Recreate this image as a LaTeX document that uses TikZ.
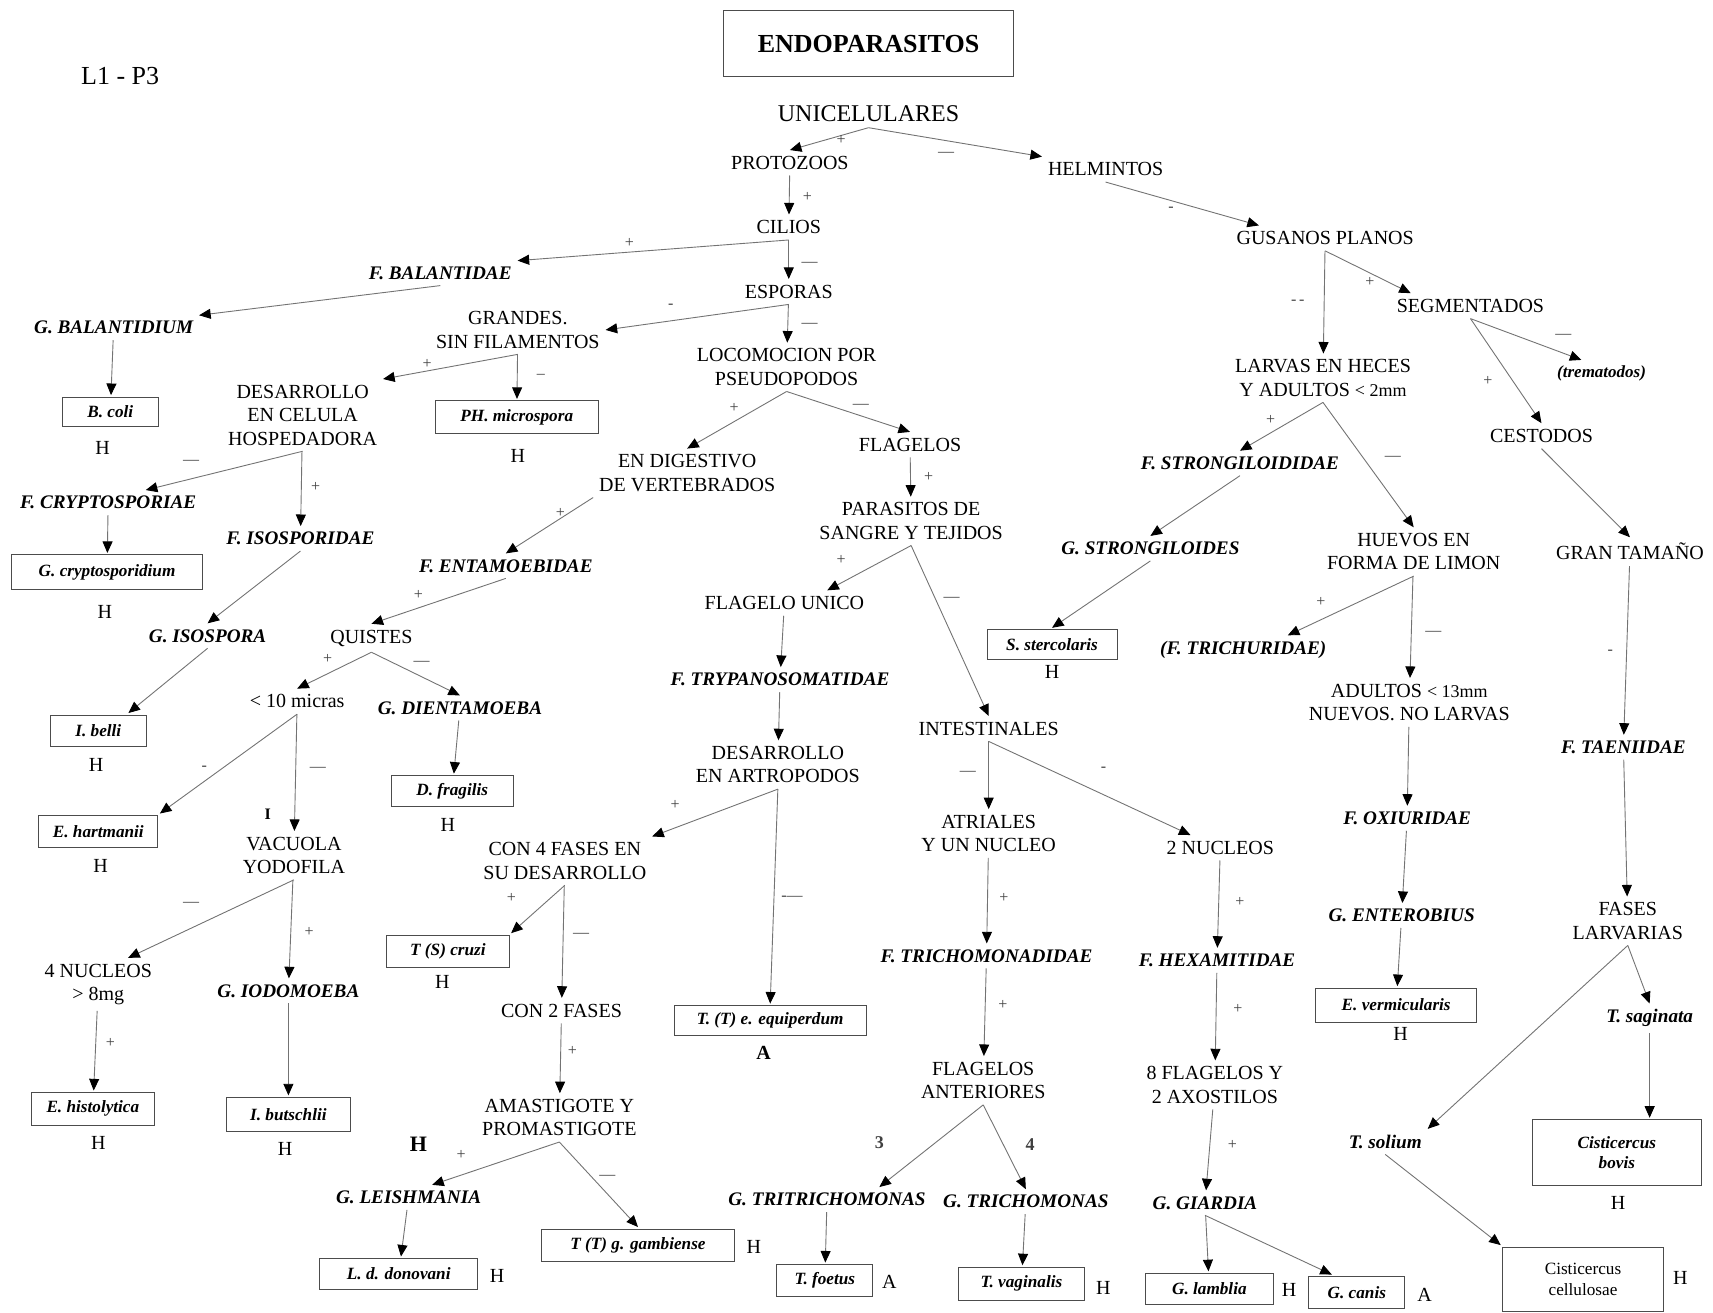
\documentclass[tikz,border=0pt]{standalone}
\usepackage{fontspec}
\setmainfont{Liberation Serif}
\usetikzlibrary{arrows.meta,calc}
\newlength\px
\setlength\px{0.5463pt}

\begin{document}
\begin{tikzpicture}[x=\px,y=-\px]
            \tikzstyle{cat}=[font=\fontsize{10}{11.7}\selectfont,align=center,inner sep=1pt,outer sep=2pt]
            \tikzstyle{taxon}=[font=\fontsize{9.6}{11}\selectfont\bfseries\itshape,inner sep=1pt,outer sep=2pt]
            \tikzstyle{species}=[draw=black!70,line width=0.5pt,align=center,inner sep=1pt,outer sep=1pt,
                                 font=\fontsize{8.6}{10}\selectfont\bfseries\itshape]
            \tikzstyle{host}=[font=\fontsize{10}{12}\selectfont,inner sep=0pt]
            \tikzstyle{sign}=[font=\fontsize{8}{9}\selectfont,text=black!75,inner sep=0pt]
            \tikzstyle{arr}=[-{Triangle[length=5.8pt,width=5pt,color=black]},black!55,line width=0.45pt]
            \useasboundingbox (0,0) rectangle (1568,1201);

            % heading
            \node[font=\fontsize{13}{15}\selectfont] (sheet) at (110,70) {L1 - P3};
            \node[draw=black!70,line width=0.5pt,minimum width=266\px,minimum height=60\px,
                  font=\fontsize{13}{15}\selectfont\bfseries] (title) at (795,40) {ENDOPARASITOS};
            \node[cat,font=\fontsize{12}{14}\selectfont] (unicel) at (795,104) {UNICELULARES};
            \node[cat] (protozoos) at (723,149) {PROTOZOOS};
            \node[cat] (helmintos) at (1012,155) {HELMINTOS};

            % protozoos
            \node[cat] (cilios) at (722,208) {CILIOS};
            \node[taxon] (balantidae) at (403,250) {F. BALANTIDAE};
            \node[cat] (esporas) at (722,267) {ESPORAS};
            \node[taxon] (gbalant) at (104,300) {G. BALANTIDIUM};
            \node[species,minimum width=88\px,minimum height=27\px] (bcoli) at (101,377) {B. coli};
            \node[cat] (grandes) at (474,302) {GRANDES.\\SIN FILAMENTOS};
            \node[cat] (locom) at (720,336) {LOCOMOCION POR\\PSEUDOPODOS};
            \node[cat] (desarr) at (277,380) {DESARROLLO\\EN CELULA\\HOSPEDADORA};
            \node[species,minimum width=149\px,minimum height=30\px] (phmicro) at (473,382) {PH. microspora};
            \node[cat] (endig) at (629,433) {EN DIGESTIVO\\DE VERTEBRADOS};
            \node[cat] (flagelos) at (833,407) {FLAGELOS};
            \node[taxon] (cryptosp) at (99,460) {F. CRYPTOSPORIAE};
            \node[taxon] (isospor) at (275,493) {F. ISOSPORIDAE};
            \node[species,minimum width=175\px,minimum height=32\px] (gcrypto) at (98,524) {G. cryptosporidium};
            \node[taxon] (entamoeb) at (463,518) {F. ENTAMOEBIDAE};
            \node[cat] (parasang) at (834,477) {PARASITOS DE\\SANGRE Y TEJIDOS};
            \node[cat] (flagunico) at (718,552) {FLAGELO UNICO};
            \node[taxon] (gisospora) at (190,582) {G. ISOSPORA};
            \node[cat] (quistes) at (340,584) {QUISTES};
            \node[taxon] (trypano) at (714,622) {F. TRYPANOSOMATIDAE};
            \node[species,minimum width=88\px,minimum height=29\px] (ibelli) at (90,669) {I. belli};
            \node[cat] (micras) at (272,642) {< 10 micras};
            \node[taxon] (gdientam) at (421,648) {G. DIENTAMOEBA};
            \node[cat] (intest) at (905,667) {INTESTINALES};
            \node[cat] (desartr) at (712,700) {DESARROLLO\\EN ARTROPODOS};
            \node[species,minimum width=112\px,minimum height=28\px] (dfragilis) at (414,724) {D. fragilis};
            \node[species,minimum width=109\px,minimum height=29\px] (ehartman) at (90,761) {E. hartmanii};
            \node[cat] (vacuola) at (269,783) {VACUOLA\\YODOFILA};
            \node[cat] (con4) at (517,788) {CON 4 FASES EN\\SU DESARROLLO};
            \node[cat] (atriales) at (905,763) {ATRIALES\\Y UN NUCLEO};
            \node[cat] (nucleos2) at (1117,776) {2 NUCLEOS};
            \node[species,minimum width=112\px,minimum height=30\px] (tscruzi) at (410,871) {T (S) cruzi};
            \node[cat] (con2) at (514,925) {CON 2 FASES};
            \node[cat] (nucleos4) at (90,901) {4 NUCLEOS\\> 8mg};
            \node[taxon] (giodom) at (264,907) {G. IODOMOEBA};
            \node[species,minimum width=176\px,minimum height=27\px] (ttequi) at (705,934) {T. (T) e. equiperdum};
            \node[taxon] (trichomonad) at (903,875) {F. TRICHOMONADIDAE};
            \node[taxon] (hexamit) at (1114,879) {F. HEXAMITIDAE};
            \node[species,minimum width=112\px,minimum height=30\px] (ehisto) at (85,1015) {E. histolytica};
            \node[species,minimum width=113\px,minimum height=31\px] (ibutsch) at (264,1020) {I. butschlii};
            \node[cat] (amasti) at (512,1023) {AMASTIGOTE Y\\PROMASTIGOTE};
            \node[cat] (flagant) at (900,989) {FLAGELOS\\ANTERIORES};
            \node[cat] (flag8) at (1112,993) {8 FLAGELOS Y\\2 AXOSTILOS};
            \node[taxon] (gleish) at (374,1096) {G. LEISHMANIA};
            \node[species,minimum width=145\px,minimum height=28\px] (ldonov) at (365,1166) {L. d. donovani};
            \node[species,minimum width=177\px,minimum height=30\px] (ttgamb) at (584,1140) {T (T) g. gambiense};
            \node[taxon] (gtritri) at (757,1098) {G. TRITRICHOMONAS};
            \node[taxon] (gtricho) at (939,1100) {G. TRICHOMONAS};
            \node[taxon] (ggiardia) at (1103,1101) {G. GIARDIA};
            \node[species,minimum width=88\px,minimum height=29\px] (tfoetus) at (755,1172) {T. foetus};
            \node[species,minimum width=116\px,minimum height=30\px] (tvagin) at (935,1175) {T. vaginalis};
            \node[species,minimum width=117\px,minimum height=29\px] (glamblia) at (1107,1180) {G. lamblia};
            \node[species,minimum width=88\px,minimum height=29\px] (gcanis) at (1242,1183) {G. canis};

            % helmintos
            \node[cat] (gusanos) at (1213,218) {GUSANOS PLANOS};
            \node[cat] (segment) at (1346,280) {SEGMENTADOS};
            \node[taxon,font=\fontsize{8.5}{10}\selectfont\bfseries\itshape] (tremat) at (1466,342) {(trematodos)};
            \node[cat] (larvas) at (1211,346) {LARVAS EN HECES\\Y ADULTOS {\fontsize{9}{10}\selectfont< 2mm}};
            \node[cat] (cestodos) at (1411,399) {CESTODOS};
            \node[taxon] (fstrong) at (1135,424) {F. STRONGILOIDIDAE};
            \node[taxon] (gstrong) at (1053,502) {G. STRONGILOIDES};
            \node[cat] (huevos) at (1294,505) {HUEVOS EN\\FORMA DE LIMON};
            \node[cat] (grantam) at (1492,505) {GRAN TAMAÑO};
            \node[species,minimum width=119\px,minimum height=27\px] (sstercol) at (963,590) {S. stercolaris};
            \node[taxon] (ftrichu) at (1138,595) {(F. TRICHURIDAE)};
            \node[cat] (adultos) at (1290,643) {ADULTOS {\fontsize{9}{10}\selectfont< 13mm}\\NUEVOS. NO LARVAS};
            \node[taxon] (ftaen) at (1486,684) {F. TAENIIDAE};
            \node[taxon] (foxiur) at (1288,749) {F. OXIURIDAE};
            \node[taxon] (genterob) at (1283,838) {G. ENTEROBIUS};
            \node[cat] (fases) at (1490,843) {FASES\\LARVARIAS};
            \node[species,minimum width=147\px,minimum height=31\px] (evermic) at (1278,920) {E. vermicularis};
            \node[taxon] (tsagin) at (1510,932) {T. saginata};
            \node[taxon] (tsolium) at (1268,1045) {T. solium};
            \node[species,minimum width=155\px,minimum height=60\px] (cbovis) at (1480,1055) {Cisticercus\\bovis};
            \node[species,minimum width=147\px,minimum height=59\px,font=\fontsize{8.6}{10.5}\selectfont] (ccellul) at (1449,1171) {Cisticercus\\cellulosae};

            % hosts
            \node[host] (h1) at (94,410) {H};
            \node[host] (h2) at (474,417) {H};
            \node[host] (h3) at (96,560) {H};
            \node[host] (h4) at (88,700) {H};
            \node[host] (h5) at (410,755) {H};
            \node[host] (h6) at (92,793) {H};
            \node[host] (h7) at (405,899) {H};
            \node[host,font=\fontsize{10}{12}\selectfont\bfseries] (a1) at (699,964) {A};
            \node[host] (h8) at (90,1046) {H};
            \node[host] (h9) at (261,1052) {H};
            \node[host] (h10) at (455,1168) {H};
            \node[host] (h11) at (690,1141) {H};
            \node[host] (a2) at (814,1173) {A};
            \node[host] (h12) at (1010,1179) {H};
            \node[host] (h13) at (1180,1181) {H};
            \node[host] (a3) at (1304,1185) {A};
            \node[host] (h14) at (963,615) {H};
            \node[host] (h15) at (1282,946) {H};
            \node[host] (h16) at (1481,1101) {H};
            \node[host] (h17) at (1538,1170) {H};
            \node[host,font=\fontsize{11}{12}\selectfont\bfseries] (h18) at (383,1047) {H};
            \node[host,font=\fontsize{8}{9}\selectfont\bfseries] (tick) at (245,745) {I};

            % connectors
            \draw[arr] (unicel.south) -- (protozoos.north);
            \draw[arr] (unicel.south) -- (helmintos.north west);
            \draw[arr] (protozoos) -- (cilios);
            \draw[arr] (cilios.south) -- (balantidae.north east);
            \draw[arr] (cilios) -- (esporas);
            \draw[arr] (balantidae.south) -- (gbalant.north east);
            \draw[arr] (esporas.south) -- (grandes.east);
            \draw[arr] (esporas) -- (locom);
            \draw[arr] (gbalant) -- (bcoli);
            \draw[arr] (grandes.south) -- (desarr.north east);
            \draw[arr] (grandes) -- (phmicro);
            \draw[arr] (locom.south) -- (endig.north);
            \draw[arr] (locom.south) -- (flagelos.north);
            \draw[arr] (desarr.south) -- ($(cryptosp.north)!.4!(cryptosp.north east)$);
            \draw[arr] (desarr) -- (isospor);
            \draw[arr] (cryptosp) -- (gcrypto);
            \draw[arr] (endig.south west) -- (entamoeb.north);
            \draw[arr] (flagelos) -- (parasang);
            \draw[arr] (isospor.south) -- (gisospora.north);
            \draw[arr] (entamoeb.south) -- (quistes.north);
            \draw[arr] (parasang.south) -- ($(flagunico.north)!.5!(flagunico.north east)$);
            \draw[arr] (parasang.south) -- (intest.north);
            \draw[arr] (gisospora.south) -- ($(ibelli.north)!.6!(ibelli.north east)$);
            \draw[arr] (quistes.south) -- (micras.north);
            \draw[arr] (quistes.south) -- (gdientam.north);
            \draw[arr] (flagunico) -- (trypano);
            \draw[arr] (trypano) -- (desartr);
            \draw[arr] (micras.south) -- (ehartman.north east);
            \draw[arr] (micras) -- (vacuola);
            \draw[arr] (gdientam) -- (dfragilis);
            \draw[arr] (intest) -- (atriales);
            \draw[arr] (intest.south) -- ($(nucleos2.north west)!.5!(nucleos2.north)$);
            \draw[arr] (desartr.south) -- (con4.north east);
            \draw[arr] (desartr.south) -- (ttequi.north);
            \draw[arr] (vacuola.south) -- ($(nucleos4.north)!.5!(nucleos4.north east)$);
            \draw[arr] (vacuola) -- (giodom);
            \draw[arr] (con4.south) -- (tscruzi.north east);
            \draw[arr] (con4) -- (con2);
            \draw[arr] (atriales) -- (trichomonad);
            \draw[arr] (nucleos2) -- (hexamit);
            \draw[arr] (nucleos4) -- (ehisto);
            \draw[arr] (giodom) -- (ibutsch);
            \draw[arr] (con2) -- (amasti);
            \draw[arr] (trichomonad) -- (flagant);
            \draw[arr] (hexamit) -- (flag8);
            \draw[arr] (amasti.south) -- ($(gleish.north)!.3!(gleish.north east)$);
            \draw[arr] (amasti.south) -- (ttgamb.north);
            \draw[arr] (gleish) -- (ldonov);
            \draw[arr] (flagant.south) -- ($(gtritri.north)!.5!(gtritri.north east)$);
            \draw[arr] (flagant.south) -- (gtricho.north);
            \draw[arr] (flag8) -- (ggiardia);
            \draw[arr] (gtritri) -- (tfoetus);
            \draw[arr] (gtricho) -- (tvagin);
            \draw[arr] (ggiardia) -- (glamblia);
            \draw[arr] (ggiardia.south) -- ($(gcanis.north west)!.5!(gcanis.north)$);
            \draw[arr] (helmintos.south) -- ($(gusanos.north west)!.3!(gusanos.north)$);
            \draw[arr] (gusanos) -- (larvas);
            \draw[arr] (gusanos.south) -- ($(segment.north west)!.25!(segment.north)$);
            \draw[arr] (segment.south) -- ($(tremat.north west)!.6!(tremat.north)$);
            \draw[arr] (segment.south) -- (cestodos.north);
            \draw[arr] (larvas.south) -- (fstrong.north);
            \draw[arr] (larvas.south) -- (huevos.north);
            \draw[arr] (cestodos.south) -- (grantam.north);
            \draw[arr] (fstrong.south) -- (gstrong.north);
            \draw[arr] (gstrong.south) -- (sstercol.north);
            \draw[arr] (huevos.south) -- ($(ftrichu.north)!.5!(ftrichu.north east)$);
            \draw[arr] (huevos) -- (adultos);
            \draw[arr] (grantam) -- (ftaen);
            \draw[arr] (adultos) -- (foxiur);
            \draw[arr] (ftaen) -- (fases);
            \draw[arr] (foxiur) -- (genterob);
            \draw[arr] (genterob) -- (evermic);
            \draw[arr] (fases.south) -- (tsolium.north east);
            \draw[arr] (fases.south) -- (tsagin.north);
            \draw[arr] (tsagin.south) -- (tsagin.south |- cbovis.north);
            \draw[arr] (tsolium.south) -- (ccellul.north west);

            % branch signs
            \node[sign] (s1) at (770,128) {+};
            \node[sign] (s2) at (866,141) {\textemdash};
            \node[sign] (s3) at (739,180) {+};
            \node[sign] (s4) at (576,222) {+};
            \node[sign] (s5) at (741,242) {\textemdash};
            \node[sign] (s6) at (614,280) {-};
            \node[sign] (s7) at (741,298) {\textemdash};
            \node[sign] (s8) at (391,333) {+};
            \node[sign] (s9) at (495,345) {\textendash};
            \node[sign] (s10) at (672,373) {+};
            \node[sign] (s11) at (788,372) {\textemdash};
            \node[sign] (s12) at (175,423) {\textemdash};
            \node[sign] (s13) at (289,446) {+};
            \node[sign] (s14) at (513,470) {+};
            \node[sign] (s15) at (850,437) {+};
            \node[sign] (s16) at (383,545) {+};
            \node[sign] (s17) at (770,513) {+};
            \node[sign] (s18) at (871,549) {\textemdash};
            \node[sign] (s19) at (300,603) {+};
            \node[sign] (s20) at (386,607) {\textemdash};
            \node[sign] (s21) at (187,703) {-};
            \node[sign] (s22) at (291,704) {\textemdash};
            \node[sign] (s23) at (886,708) {\textemdash};
            \node[sign] (s24) at (1010,704) {-};
            \node[sign] (s25) at (618,737) {+};
            \node[sign] (s26) at (725,822) {-\textemdash};
            \node[sign] (s27) at (175,828) {\textemdash};
            \node[sign] (s28) at (283,853) {+};
            \node[sign] (s29) at (468,822) {+};
            \node[sign] (s30) at (532,856) {\textemdash};
            \node[sign] (s31) at (919,822) {+};
            \node[sign] (s32) at (1135,826) {+};
            \node[sign] (s33) at (101,955) {+};
            \node[sign] (s34) at (524,962) {+};
            \node[sign] (s35) at (918,920) {+};
            \node[sign] (s36) at (1133,924) {+};
            \node[sign] (s37) at (422,1057) {+};
            \node[sign] (s38) at (556,1078) {\textemdash};
            \node[sign,font=\fontsize{9}{10}\selectfont\bfseries] (s39) at (805,1046) {3};
            \node[sign,font=\fontsize{9}{10}\selectfont\bfseries] (s40) at (943,1048) {4};
            \node[sign] (s41) at (1128,1048) {+};
            \node[sign] (s42) at (1072,192) {-};
            \node[sign] (s43) at (1188,277) {-\,-};
            \node[sign] (s44) at (1254,258) {+};
            \node[sign] (s45) at (1431,308) {\textemdash};
            \node[sign] (s46) at (1362,349) {+};
            \node[sign] (s47) at (1163,384) {+};
            \node[sign] (s48) at (1275,420) {\textemdash};
            \node[sign] (s49) at (1209,551) {+};
            \node[sign] (s50) at (1312,580) {\textemdash};
            \node[sign] (s51) at (1474,597) {-};
\end{tikzpicture}
\end{document}
